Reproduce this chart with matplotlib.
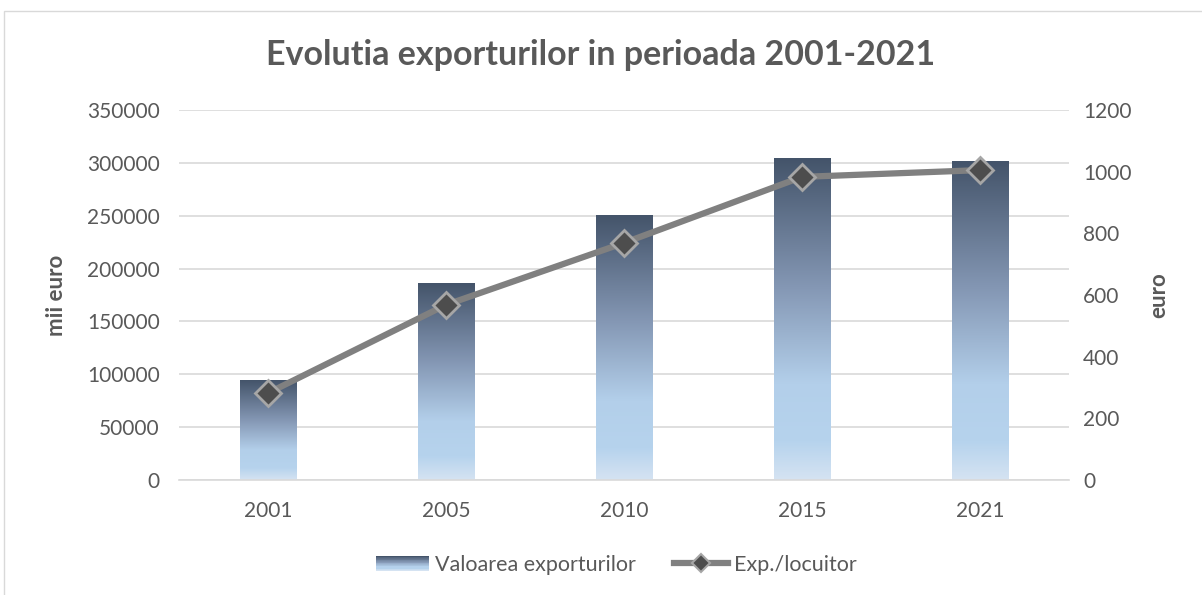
import numpy as np
import matplotlib
matplotlib.use('Agg')
import matplotlib.pyplot as plt
from matplotlib.colors import LinearSegmentedColormap
from matplotlib.patches import Rectangle
from matplotlib.legend_handler import HandlerBase
from matplotlib.lines import Line2D

plt.rcParams['font.family'] = ['Lato', 'DejaVu Sans']

years = ['2001', '2005', '2010', '2015', '2021']
export_value = [94000, 186000, 250000, 304000, 301000]   # mii euro
export_per_capita = [282, 568, 769, 983, 1005]            # euro

txt = '#595959'
bar_cmap = LinearSegmentedColormap.from_list(
    'bars', [(0.0, '#d5e3f2'), (0.12, '#b6d3ed'), (0.3, '#b3cfea'),
             (0.6, '#8497b4'), (1.0, '#44546a')])

fig = plt.figure(figsize=(12.02, 5.95), dpi=100)
fig.patches.append(Rectangle((4 / 1202, -0.1), 1.2, 1 - 11 / 595 + 0.1,
                             transform=fig.transFigure, fill=False,
                             edgecolor='#d9d9d9', linewidth=1))
ax = fig.add_axes([179 / 1202, 1 - 480 / 595, 890 / 1202, 370 / 595])
ax2 = ax.twinx()

x = np.arange(len(years))
width = 0.32
grad = np.linspace(0, 1, 256).reshape(-1, 1)
for xi, v in zip(x, export_value):
    ax.imshow(grad, cmap=bar_cmap, aspect='auto', origin='lower',
              extent=(xi - width / 2, xi + width / 2, 0, v), zorder=2)

ax.set_xlim(-0.5, 4.5)
ax.set_ylim(0, 350000)
ax.set_yticks(np.arange(0, 350001, 50000))
ax.set_xticks(x)
ax.set_xticklabels(years)
ax.grid(axis='y', color='#d9d9d9', linewidth=1.2, zorder=0)
ax.set_axisbelow(True)
for s in ['top', 'left', 'right']:
    ax.spines[s].set_visible(False)
ax.spines['bottom'].set_color('#d9d9d9')
ax.spines['bottom'].set_linewidth(1.2)
ax.tick_params(length=0, labelsize=15, colors=txt, pad=14)
ax.tick_params(axis='x', pad=15)
ax.set_ylabel('mii euro', fontsize=16, fontweight='bold', color=txt, labelpad=14)

ax2.plot(x, export_per_capita, color='#808080', linewidth=4.5,
         marker='D', markersize=13, markerfacecolor='#4d4d4d',
         markeredgecolor='#a6a6a6', markeredgewidth=2, zorder=5)
ax2.set_ylim(0, 1200)
ax2.set_yticks(np.arange(0, 1201, 200))
for s in ['top', 'left', 'right', 'bottom']:
    ax2.spines[s].set_visible(False)
ax2.tick_params(length=0, labelsize=15, colors=txt, pad=10)
ax2.set_ylabel('euro', fontsize=16, fontweight='bold', color=txt, labelpad=12)

fig.text(0.5, 1 - 55 / 595, 'Evolutia exporturilor in perioada 2001-2021',
         ha='center', va='center', fontsize=24.5, fontweight='bold', color=txt)


class GradientHandler(HandlerBase):
    def create_artists(self, legend, orig_handle, xdescent, ydescent,
                       width, height, fontsize, trans):
        n = 20
        arts = []
        for i in range(n):
            arts.append(Rectangle((-xdescent, -ydescent + height * i / n),
                                  width, height / n + 0.3,
                                  facecolor=bar_cmap(i / (n - 1)),
                                  edgecolor='none', transform=trans))
        return arts


bar_handle = Rectangle((0, 0), 1, 1)
line_handle = Line2D([], [], color='#808080', linewidth=4.5, marker='D',
                     markersize=9, markerfacecolor='#4d4d4d',
                     markeredgecolor='#a6a6a6', markeredgewidth=1.5)
fig.legend([bar_handle, line_handle], ['Valoarea exporturilor', 'Exp./locuitor'],
           handler_map={Rectangle: GradientHandler()},
           loc='center', bbox_to_anchor=(616 / 1202, 1 - 565 / 595), ncol=2,
           frameon=False, fontsize=15.5, labelcolor=txt, handlelength=2.5,
           handletextpad=0.25, columnspacing=1.8)

fig.savefig('out.png', dpi=100)
